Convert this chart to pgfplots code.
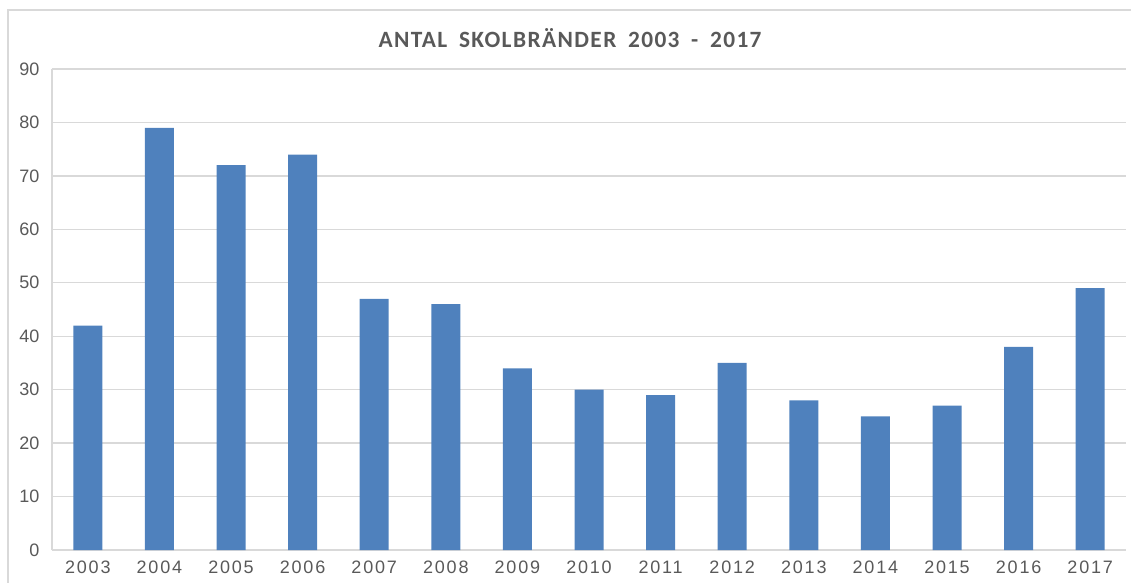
\documentclass[border=0pt]{standalone}
\usepackage{pgfplots}
\pgfplotsset{compat=1.18}
\usepackage{fontspec}
\setmainfont{Liberation Sans}
\newfontfamily\xfont[LetterSpace=10]{Liberation Sans}
\newfontfamily\titlefont[LetterSpace=6]{Carlito}
\definecolor{barblue}{HTML}{4F81BD}
\definecolor{txtgray}{HTML}{595959}
\definecolor{gridgray}{HTML}{D9D9D9}
\begin{document}
\begin{tikzpicture}
\useasboundingbox (0,0) rectangle (678.6pt,349.2pt);
\draw[gridgray, line width=0.8pt] (4.8pt,-20pt) rectangle (700pt,343.2pt);
\node[txtgray, font=\titlefont\bfseries\fontsize{14}{16}\selectfont] at (342pt,326.4pt) {ANTAL\hspace{7pt}SKOLBRÄNDER\hspace{7pt}2003\hspace{7pt}-\hspace{7pt}2017};
\begin{axis}[
  at={(31.2pt,19.2pt)}, anchor=south west,
  scale only axis, width=644.4pt, height=288.6pt,
  xmin=-0.5, xmax=14.5, ymin=0, ymax=90,
  ytick={0,10,...,90},
  xtick={0,...,14},
  xticklabels={2003,2004,2005,2006,2007,2008,2009,2010,2011,2012,2013,2014,2015,2016,2017},
  axis line style={gridgray, line width=0.8pt},
  axis x line*=bottom, axis y line*=left,
  ymajorgrids, grid style={gridgray, line width=0.8pt},
  major tick length=0pt,
  tick style={draw=none},
  /pgf/number format/assume math mode=true,
  yticklabel style={txtgray, font=\fontsize{10.8}{12}\selectfont, xshift=-4pt},
  xticklabel style={txtgray, font=\xfont\fontsize{10.8}{12}\selectfont, yshift=-3pt},
  clip=false,
]
\addplot[ybar, bar width=17.4pt, fill=barblue, draw=none] coordinates {
(0,42) (1,79) (2,72) (3,74) (4,47) (5,46) (6,34) (7,30) (8,29) (9,35) (10,28) (11,25) (12,27) (13,38) (14,49)
};
\end{axis}
\end{tikzpicture}
\end{document}
